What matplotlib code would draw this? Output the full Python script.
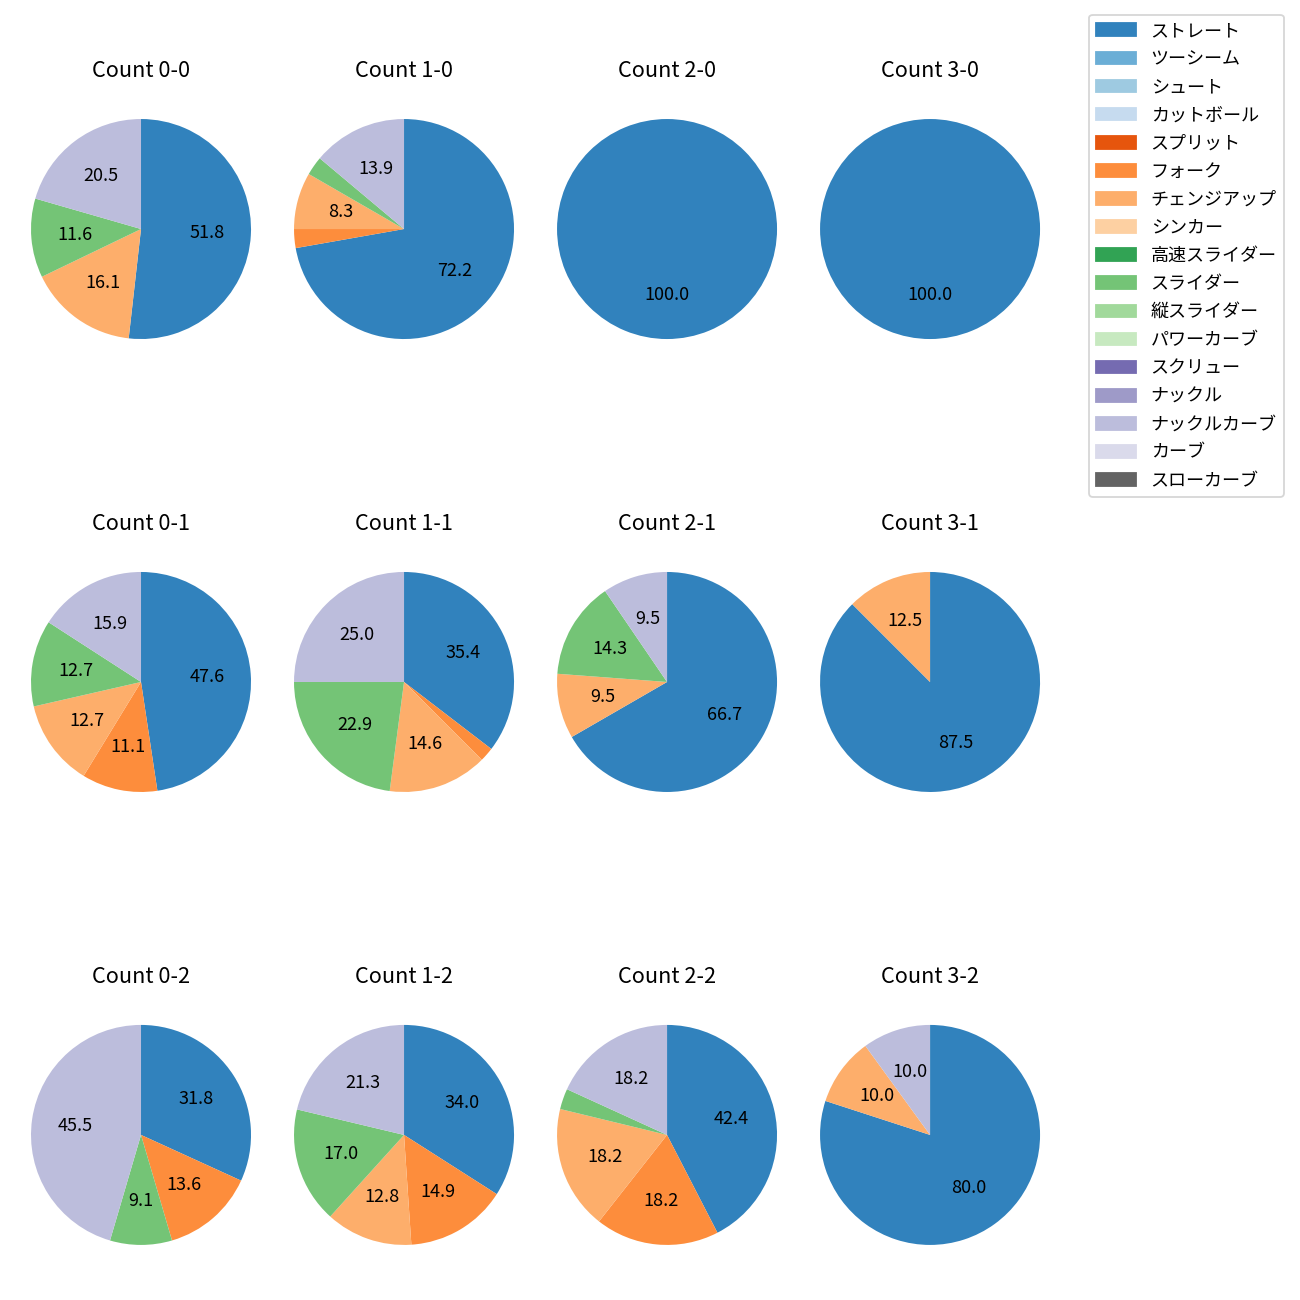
import matplotlib
matplotlib.use("Agg")
import matplotlib.pyplot as plt
from matplotlib.patches import Patch

plt.rcParams['font.family'] = ['Noto Sans CJK JP', 'DejaVu Sans']

pitch_names = ["ストレート", "ツーシーム", "シュート", "カットボール", "スプリット",
               "フォーク", "チェンジアップ", "シンカー", "高速スライダー", "スライダー",
               "縦スライダー", "パワーカーブ", "スクリュー", "ナックル", "ナックルカーブ",
               "カーブ", "スローカーブ"]
colors = [plt.cm.tab20c(i) for i in range(17)]

# pitch counts per ball-strike count, in legend order
counts = {
    "0-0": {"ストレート": 58, "チェンジアップ": 18, "スライダー": 13, "ナックルカーブ": 23},
    "1-0": {"ストレート": 26, "フォーク": 1, "チェンジアップ": 3, "スライダー": 1, "ナックルカーブ": 5},
    "2-0": {"ストレート": 5},
    "3-0": {"ストレート": 2},
    "0-1": {"ストレート": 30, "フォーク": 7, "チェンジアップ": 8, "スライダー": 8, "ナックルカーブ": 10},
    "1-1": {"ストレート": 17, "フォーク": 1, "チェンジアップ": 7, "スライダー": 11, "ナックルカーブ": 12},
    "2-1": {"ストレート": 14, "チェンジアップ": 2, "スライダー": 3, "ナックルカーブ": 2},
    "3-1": {"ストレート": 7, "チェンジアップ": 1},
    "0-2": {"ストレート": 7, "フォーク": 3, "スライダー": 2, "ナックルカーブ": 10},
    "1-2": {"ストレート": 16, "フォーク": 7, "チェンジアップ": 6, "スライダー": 8, "ナックルカーブ": 10},
    "2-2": {"ストレート": 14, "フォーク": 6, "チェンジアップ": 6, "スライダー": 1, "ナックルカーブ": 6},
    "3-2": {"ストレート": 8, "チェンジアップ": 1, "ナックルカーブ": 1},
}
order = ["0-0", "1-0", "2-0", "3-0", "0-1", "1-1", "2-1", "3-1", "0-2", "1-2", "2-2", "3-2"]

fig, axes = plt.subplots(3, 4, figsize=(10, 10), dpi=130)
fig.subplots_adjust(left=0.0027, right=0.8212, top=0.9296, bottom=0.0212,
                    wspace=-0.0436, hspace=0.647)

for ax, key in zip(axes.flat, order):
    d = counts[key]
    vals = [d[p] for p in pitch_names if p in d]
    cols = [colors[i] for i, p in enumerate(pitch_names) if p in d]
    ax.pie(vals, colors=cols, startangle=90, counterclock=False,
           autopct=lambda p: f"{p:.1f}" if p > 4 else "")
    ax.set_title(f"Count {key}", pad=8)

handles = [Patch(color=c, label=n) for c, n in zip(colors, pitch_names)]
fig.legend(handles=handles, loc='upper right', bbox_to_anchor=(0.9945, 0.9955),
           labelspacing=0.56, handlelength=2.2)

plt.savefig("out.png")
